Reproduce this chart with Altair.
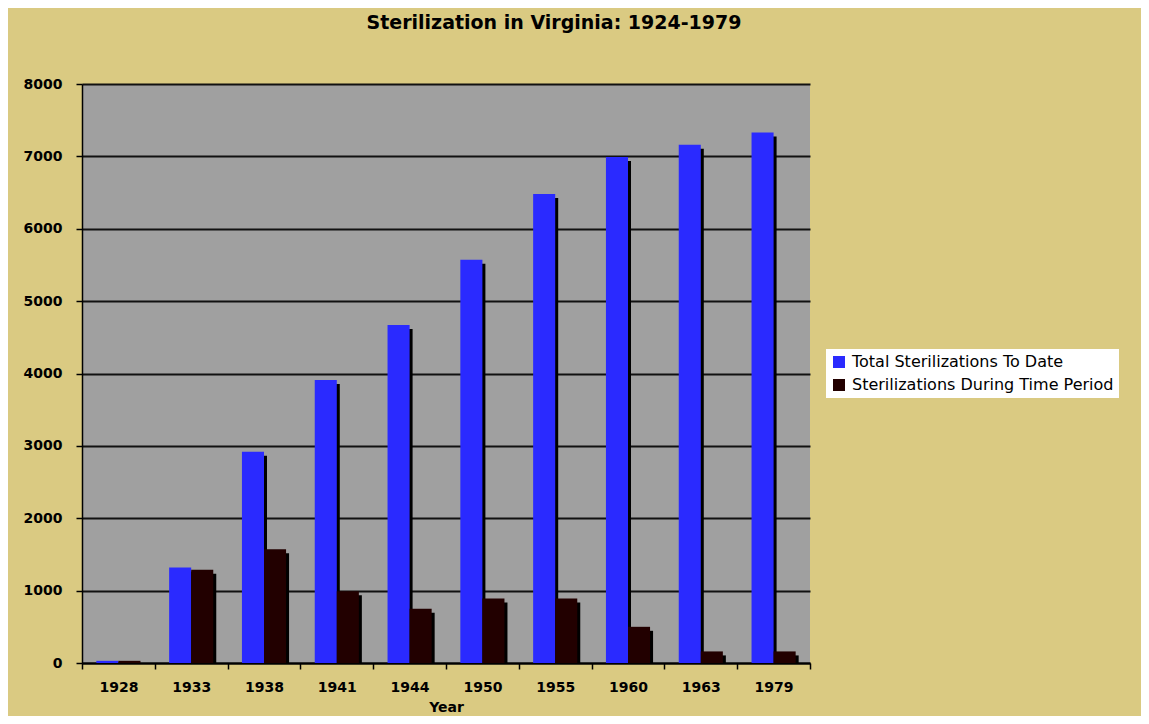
import altair as alt
import pandas as pd

years = ["1928", "1933", "1938", "1941", "1944", "1950", "1955", "1960", "1963", "1979"]
total_to_date = [30, 1320, 2920, 3910, 4670, 5570, 6480, 6990, 7160, 7330]
during_period = [30, 1290, 1570, 990, 750, 890, 890, 500, 160, 160]
series_names = ["Total Sterilizations To Date", "Sterilizations During Time Period"]
series_colors = ["#2A2AFF", "#220000"]

rows = []
for i, y in enumerate(years):
    rows.append({"Year": y, "Series": series_names[0], "Value": total_to_date[i]})
    rows.append({"Year": y, "Series": series_names[1], "Value": during_period[i]})
df = pd.DataFrame(rows)

FONT = "DejaVu Sans"
VIEW_W = 728
STEP = VIEW_W / len(years)
SHADOW = 3

x_enc = alt.X(
    "Year:N",
    sort=years,
    scale=alt.Scale(paddingInner=0, paddingOuter=0),
    axis=alt.Axis(
        title="Year",
        labelAngle=0,
        tickBand="extent",
        tickSize=6,
        tickColor="#000",
        tickWidth=1.5,
        domainColor="#000",
        domainWidth=2,
        labelFont=FONT,
        labelFontSize=14,
        labelFontWeight="bold",
        labelColor="#000",
        labelPadding=11,
        titleFont=FONT,
        titleFontSize=14,
        titleFontWeight="bold",
        titleColor="#000",
        titlePadding=6,
    ),
)
y_enc = alt.Y(
    "Value:Q",
    scale=alt.Scale(domain=[0, 8000], nice=False),
    axis=alt.Axis(
        title=None,
        values=list(range(0, 8001, 1000)),
        format="d",
        grid=True,
        gridColor="#111",
        gridWidth=2,
        domainColor="#000",
        domainWidth=1.5,
        tickColor="#000",
        tickSize=6,
        tickWidth=1.5,
        labelFont=FONT,
        labelFontSize=14,
        labelFontWeight="bold",
        labelColor="#000",
        labelPadding=14,
    ),
)

base = alt.Chart(df)

shadow = base.mark_bar(color="#000", yOffset=SHADOW + 1, clip=True).encode(
    x=x_enc,
    y=y_enc,
    xOffset=alt.XOffset(
        "Series:N",
        sort=series_names,
        scale=alt.Scale(paddingInner=0, paddingOuter=0.65, range=[SHADOW, STEP + SHADOW]),
    ),
)

bars = base.mark_bar().encode(
    x=x_enc,
    y=y_enc,
    xOffset=alt.XOffset(
        "Series:N",
        sort=series_names,
        scale=alt.Scale(paddingInner=0, paddingOuter=0.65),
    ),
    color=alt.Color(
        "Series:N",
        sort=series_names,
        scale=alt.Scale(domain=series_names, range=series_colors),
        legend=alt.Legend(
            title=None,
            orient="none",
            legendX=744,
            legendY=265,
            fillColor="#FFFFFF",
            padding=5,
            symbolType="square",
            symbolSize=144,
            symbolStrokeWidth=0,
            labelFont=FONT,
            labelFontSize=16,
            labelColor="#000",
            labelOffset=5,
            labelLimit=500,
            rowPadding=7,
        ),
    ),
)

chart = (
    alt.layer(shadow, bars)
    .resolve_scale(xOffset="independent")
    .properties(
        width=VIEW_W,
        height=579,
        autosize=alt.AutoSizeParams(type="none"),
        padding={"left": 74, "top": 76, "right": 331, "bottom": 53},
        background="#DACA82",
        title=alt.Title(
            "Sterilization in Virginia: 1924-1979",
            font=FONT,
            fontSize=19,
            fontWeight="bold",
            color="#000",
            anchor="middle",
            dx=108,
            offset=44,
        ),
    )
    .configure_view(fill="#A0A0A0", stroke=None)
)

chart.save("out.html", embed_options={"renderer": "svg", "actions": False})
